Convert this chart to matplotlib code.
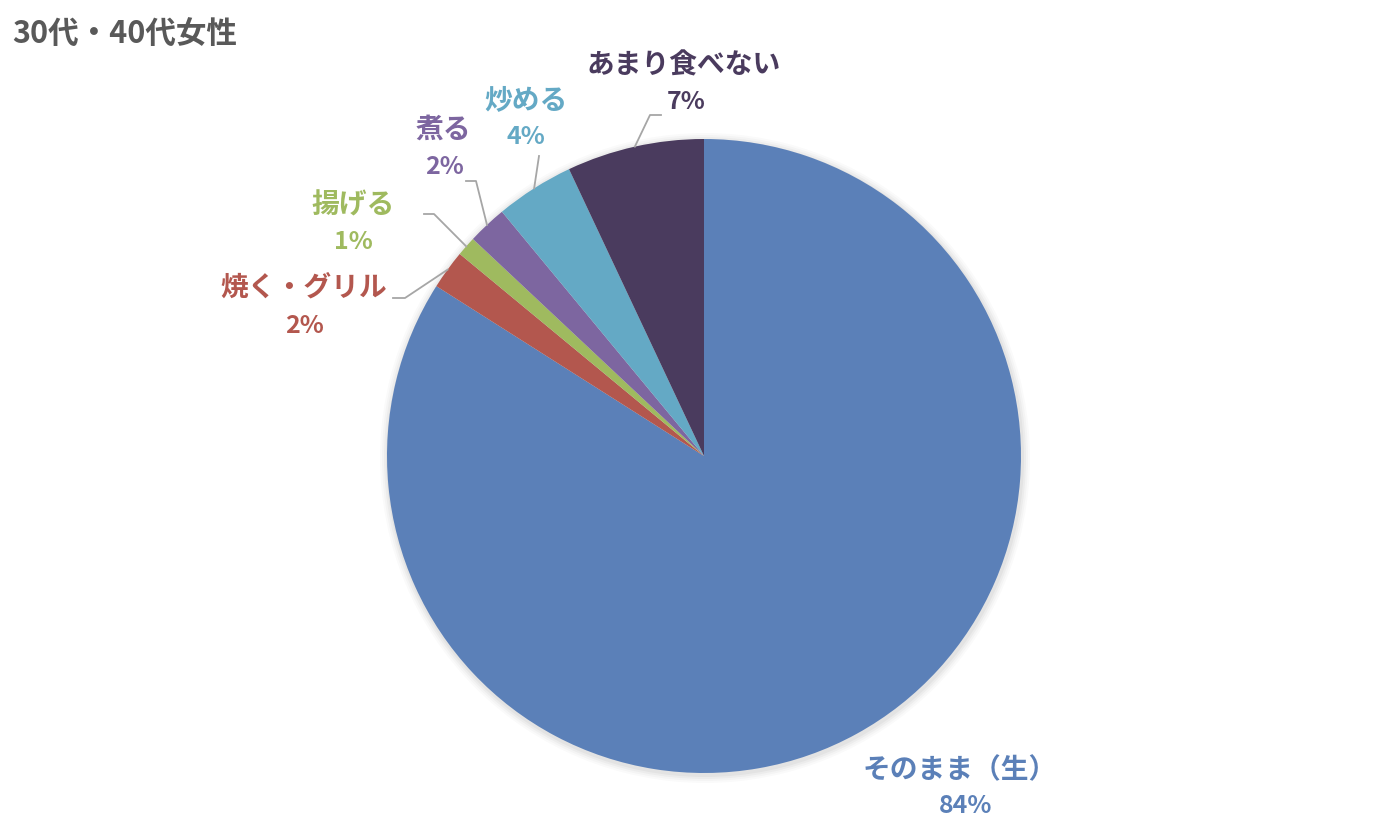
import matplotlib
matplotlib.use('Agg')
import matplotlib.pyplot as plt
from matplotlib.patches import Circle
import numpy as np

plt.rcParams['font.family'] = ['Noto Sans CJK JP', 'DejaVu Sans']

# データ
categories = ['そのまま（生）', '焼く・グリル', '揚げる', '煮る', '炒める', 'あまり食べない']
values = [84, 2, 1, 2, 4, 7]
colors = ['#5B80B8', '#B3574E', '#9FBA5F', '#7D66A0', '#64A9C5', '#4A3B5E']
title = '30代・40代女性'

W, H = 1400, 840


def py(y):
    # 画像の上からのピクセル -> データ座標
    return H - y


fig = plt.figure(figsize=(14, 8.4), dpi=100)
ax = fig.add_axes([0, 0, 1, 1])

cx, cy, r = 704, py(456), 317

# うっすら影
for i, a in enumerate([0.035, 0.03, 0.025, 0.02]):
    ax.add_patch(Circle((cx + 1, cy - 2), r + 2 + i * 2, color='#000000',
                        alpha=a, lw=0, zorder=0))

wedges, _ = ax.pie(values, colors=colors, startangle=90, counterclock=False,
                   center=(cx, cy), radius=r, frame=True,
                   wedgeprops=dict(linewidth=0))
ax.set_xlim(0, W)
ax.set_ylim(0, H)
ax.set_aspect('equal')
ax.axis('off')

# ラベル位置 (名前の中心, パーセントの中心) と引き出し線の折れ点
label_pos = [
    ((960, 770), (966, 806), None),
    ((304, 288), (304, 326), [(393, 298), (405, 298)]),
    ((353, 205), (353, 242), [(424, 214), (434, 214)]),
    ((443, 130), (444, 167), [(466, 181), (476, 181)]),
    ((526, 100), (526, 137), [(539, 156)]),
    ((684, 65), (686, 102), [(661, 115), (650, 115)]),
]

for w, name, v, col, (p1, p2, elbow) in zip(wedges, categories, values, colors, label_pos):
    ax.text(p1[0], py(p1[1]), name, ha='center', va='center', fontsize=20,
            fontweight='bold', color=col)
    ax.text(p2[0], py(p2[1]), f'{v}%', ha='center', va='center', fontsize=18,
            fontweight='bold', color=col)
    if elbow:
        ang = np.deg2rad((w.theta1 + w.theta2) / 2)
        ex = cx + r * np.cos(ang)
        ey = cy + r * np.sin(ang)
        xs = [p[0] for p in elbow] + [ex]
        ys = [py(p[1]) for p in elbow] + [ey]
        ax.plot(xs, ys, color='#A6A6A6', lw=1.3, zorder=3)

fig.text(12 / W, 1 - 35 / H, title, ha='left', va='center', fontsize=22,
         fontweight='bold', color='#595959')

fig.savefig('out.png', dpi=100)
